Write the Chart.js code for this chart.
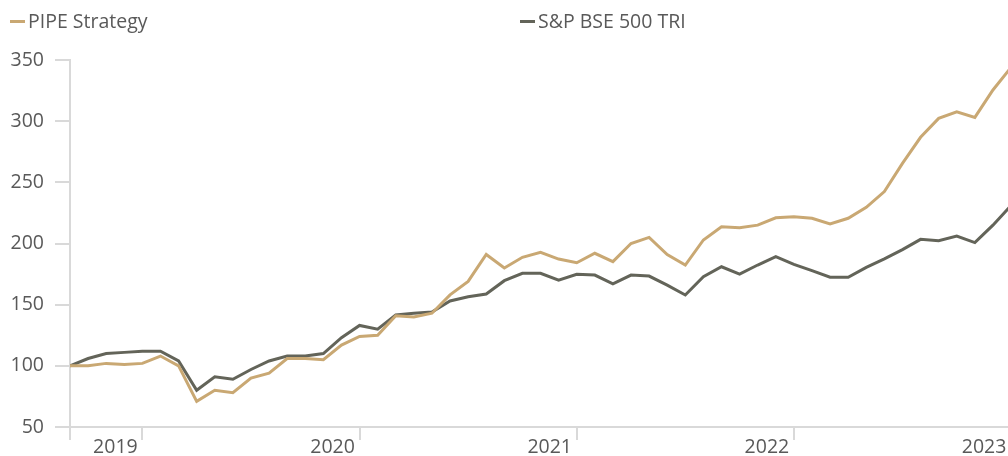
<!DOCTYPE html>
<html>
<head>
<meta charset="utf-8">
<script src="https://cdn.jsdelivr.net/npm/chart.js@4"></script>
<style>
  html, body { margin: 0; padding: 0; background: #fff; overflow: hidden; }
  #wrap { position: relative; width: 1040px; height: 456px; }
  .legend-item { position: absolute; top: 7px; font: 19.5px 'Open Sans', sans-serif; color: #595959; white-space: nowrap; line-height: 27px; }
  .legend-item span.mark { display: inline-block; width: 15px; height: 3px; vertical-align: middle; margin-right: 3px; position: relative; top: -1px; }
</style>
</head>
<body>
<div id="wrap">
  <div class="legend-item" style="left:10px"><span class="mark" style="background:#C9A873"></span>PIPE Strategy</div>
  <div class="legend-item" style="left:520px"><span class="mark" style="background:#636459"></span>S&amp;P BSE 500 TRI</div>
  <canvas id="chart" width="1040" height="456"></canvas>
</div>
<script>
const PIPE_COLOR = '#C9A873';
const BSE_COLOR = '#636459';
const AXIS_COLOR = '#d9d9d9';
const TEXT_COLOR = '#595959';

// monthly index values, first point = 100
const pipeValues = [
    100, 100, 102, 101, 102, 108, 100, 71, 80, 78, 90, 94,
    106, 106, 105, 117, 124, 125, 141, 140, 143, 158, 169, 191,
    180, 188.7, 192.8, 187.3, 184.3, 192, 185.2, 200, 205, 191, 182.4, 202.9,
    213.7, 212.9, 215, 221, 221.9, 220.6, 215.9, 220.6, 229.6, 242.4, 265.5, 286.8,
    302.3, 307.7, 303.1, 325.5, 344
];
const bseValues = [
    100, 106, 110, 111, 112, 112, 104, 80, 91, 89, 97, 104,
    108, 108, 110, 123, 133, 130, 141.5, 143, 144, 153, 156.5, 158.7,
    169.6, 175.6, 175.6, 170, 174.8, 174.2, 167, 174.2, 173.4, 166, 157.9, 172.9,
    181, 175, 182.4, 189.2, 183, 177.8, 172.4, 172.4, 180.5, 187.5, 195, 203.4,
    202.3, 206, 200.7, 215, 231
];
const yearLabels = ['2019', '2020', '2021', '2022', '2023'];
const yearTickIdx = [4, 16, 28, 40, 52];
const yTicks = [50, 100, 150, 200, 250, 300, 350];

const toPoints = arr => arr.map((v, i) => ({ x: i, y: v }));

const font = { family: "'Open Sans', sans-serif", size: 19.5 };

new Chart(document.getElementById('chart').getContext('2d'), {
    type: 'line',
    data: {
        datasets: [
            {
                label: 'PIPE Strategy',
                data: toPoints(pipeValues),
                borderColor: PIPE_COLOR,
                borderWidth: 3,
                pointRadius: 0,
                tension: 0
            },
            {
                label: 'S&P BSE 500 TRI',
                data: toPoints(bseValues),
                borderColor: BSE_COLOR,
                borderWidth: 3,
                pointRadius: 0,
                tension: 0
            }
        ]
    },
    options: {
        responsive: false,
        animation: false,
        layout: { padding: { top: 60, right: 0, left: 0, bottom: 0 } },
        plugins: { legend: { display: false }, tooltip: { enabled: false } },
        scales: {
            x: {
                type: 'linear',
                min: 0,
                max: 53.6,
                afterBuildTicks: s => { s.ticks = [0, ...yearTickIdx].map(v => ({ value: v })); },
                afterFit: s => { s.height = 29; },
                grid: { drawOnChartArea: false, drawTicks: true, tickLength: 13, color: AXIS_COLOR, lineWidth: 2 },
                border: { display: true, color: AXIS_COLOR, width: 2 },
                ticks: {
                    autoSkip: false,
                    maxRotation: 0,
                    padding: -4,
                    labelOffset: -27,
                    color: TEXT_COLOR,
                    font: font,
                    callback: v => {
                        const k = yearTickIdx.indexOf(v);
                        return k >= 0 ? yearLabels[k] : '';
                    }
                }
            },
            y: {
                min: 50,
                max: 350,
                afterBuildTicks: s => { s.ticks = yTicks.map(v => ({ value: v })); },
                afterFit: s => { s.width = 70; },
                grid: { drawOnChartArea: false, drawTicks: true, tickLength: 15, color: AXIS_COLOR, lineWidth: 2 },
                border: { display: true, color: AXIS_COLOR, width: 2 },
                ticks: { padding: 11, color: TEXT_COLOR, font: font }
            }
        }
    }
});
</script>
</body>
</html>
